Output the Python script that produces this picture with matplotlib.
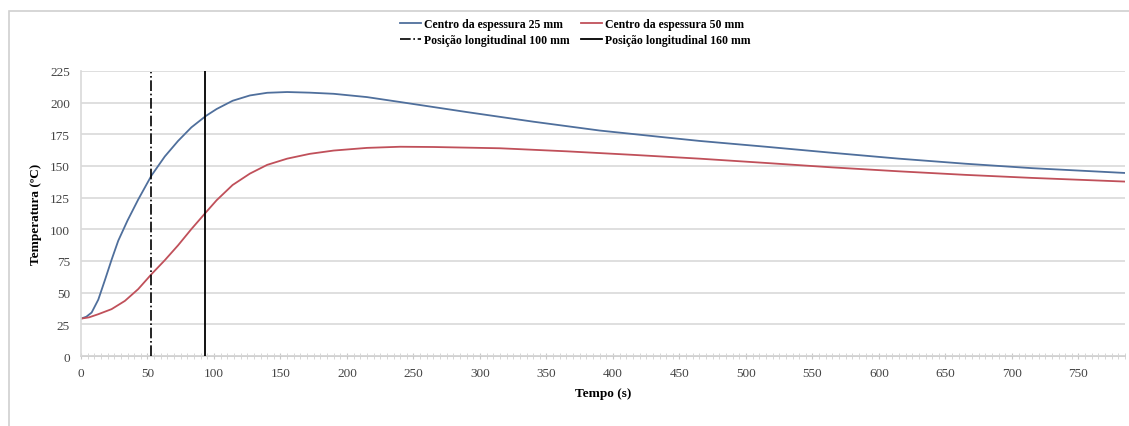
import matplotlib.pyplot as plt
from matplotlib.ticker import MultipleLocator
from matplotlib.patches import Rectangle

# Values
tempo_25 = [0, 4, 8, 13, 18, 23, 28, 35, 43, 53, 63, 73, 83, 94, 102, 114, 127,
            140, 155, 172, 190, 215, 240, 290, 340, 390, 440, 465, 515, 565, 615,
            665, 715, 785]
temp_25 = [29.5, 31, 34.3, 44.5, 60, 76, 91, 107, 123.5, 142.5, 157.5,
           169.8, 180.5, 189.6, 195, 201.5, 205.7, 207.8, 208.4, 207.9, 207,
           204.4, 200.5, 192.6, 185, 178, 172.5, 169.8, 165.2, 160.4, 155.8,
           151.8, 148.3, 144.5]

tempo_50 = [0, 6, 13, 23, 33, 43, 53, 63, 73, 83, 94, 102, 114, 127, 140, 155,
            172, 190, 215, 240, 265, 315, 365, 415, 465, 515, 565, 615, 665, 715,
            785]
temp_50 = [29.5, 30.5, 33, 37, 43.5, 52.8, 64.6, 75.6, 87.4, 100.2, 113.5, 123,
           135, 144, 150.9, 155.8, 159.6, 162.2, 164.3, 165.2, 165, 164, 161.6,
           158.8, 155.8, 152.4, 148.9, 145.8, 143, 140.6, 137.7]

pos_100 = 53
pos_160 = 93

serif = ['Liberation Serif', 'DejaVu Serif']
plt.rcParams['font.family'] = serif

fig = plt.figure(figsize=(11.29, 4.27), dpi=100)
ax = fig.add_axes([81 / 1129, 1 - 357 / 427, (1125 - 81) / 1129, (357 - 72) / 427])

# chart frame like the Excel chart area
fig.patches.append(Rectangle((9 / 1129, -0.1), 1.2, 1 - 12 / 427 + 0.1,
                             transform=fig.transFigure, fill=False,
                             edgecolor='#d0d0d0', linewidth=1.2))

l25, = ax.plot(tempo_25, temp_25, color='#4f6f9c', linewidth=1.3,
               label='Centro da espessura 25 mm')
l50, = ax.plot(tempo_50, temp_50, color='#c0505a', linewidth=1.3,
               label='Centro da espessura 50 mm')
l100, = ax.plot([pos_100, pos_100], [0, 224], color='black', linestyle='-.',
                linewidth=1.2, label='Posição longitudinal 100 mm')
l160, = ax.plot([pos_160, pos_160], [0, 227], color='black', linestyle='-',
                linewidth=1.3, label='Posição longitudinal 160 mm')

ax.set_xlim(0, 785)
ax.set_ylim(0, 225)
ax.set_yticks(range(0, 226, 25))
ax.set_xticks(range(0, 751, 50))
ax.xaxis.set_minor_locator(MultipleLocator(5))
ax.grid(axis='y', color='#d9d9d9', linewidth=1.2)
ax.set_axisbelow(True)

for s in ['top', 'right']:
    ax.spines[s].set_visible(False)
ax.spines['left'].set_color('#d9d9d9')
ax.spines['bottom'].set_color('#c8c8c8')
ax.spines['bottom'].set_linewidth(1.2)
ax.spines['left'].set_linewidth(1.2)
ax.spines['bottom'].set_zorder(0)

ax.tick_params(axis='y', length=0, labelsize=9.5, pad=8, colors='#444444')
ax.tick_params(axis='x', which='major', length=4, direction='inout', color='#c8c8c8',
               labelsize=9.5, pad=6, labelcolor='#444444')
ax.tick_params(axis='x', which='minor', length=4, direction='inout', color='#d0d0d0')

ax.set_ylabel('Temperatura (ºC)', fontsize=9.5, fontweight='bold', labelpad=6)
ax.set_xlabel('Tempo (s)', fontsize=9.5, fontweight='bold', labelpad=6)

# column-wise fill: 25 / 100 in first column, 50 / 160 in second
ax.legend(handles=[l25, l100, l50, l160], loc='center',
          bbox_to_anchor=(575 / 1129, 1 - 33 / 427),
          bbox_transform=fig.transFigure, ncol=2, frameon=False,
          prop={'family': serif, 'weight': 'bold', 'size': 8.5},
          handlelength=1.8, handletextpad=0.2, columnspacing=1.0, labelspacing=0.3)

plt.savefig('out.png', dpi=100)
